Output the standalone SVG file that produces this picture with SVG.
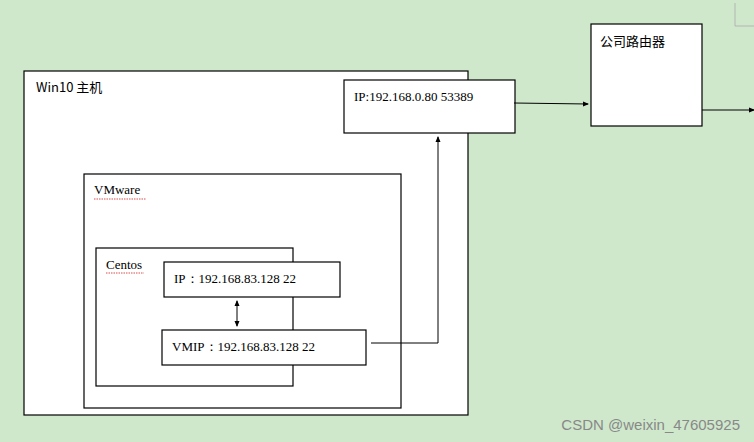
<svg xmlns="http://www.w3.org/2000/svg" width="754" height="442" viewBox="0 0 754 442">
<style>
.box{fill:#fff;stroke:#000;stroke-width:1.2}
.t{font-family:"Liberation Serif",serif;font-size:13px;fill:#000}
.c{font-family:"Noto Sans CJK SC",sans-serif;font-size:13px;fill:#000}
.ln{fill:none;stroke:#000;stroke-width:1}
.sq{fill:none;stroke:#c00;stroke-width:0.7;stroke-dasharray:1.5 1}
</style>
<defs>
<marker id="a" markerWidth="6" markerHeight="6" refX="5" refY="3" orient="auto-start-reverse" markerUnits="userSpaceOnUse"><path d="M0,0.5 L6,3 L0,5.5 Z" fill="#000"/></marker>
</defs>
<rect width="754" height="442" fill="#cfe8cc"/>
<path d="M735,3 V26 H754" fill="none" stroke="#aaa" stroke-width="0.8"/>
<g id="win10"><rect class="box" x="24" y="71" width="444" height="344"/><text class="c" x="36" y="92">Win10  主机</text></g>
<g id="hostip"><rect class="box" x="344" y="80" width="171" height="53"/><text class="t" x="354" y="101">IP:192.168.0.80      53389</text></g>
<g id="router"><rect class="box" x="591" y="24" width="111" height="102"/><text class="c" x="600" y="46">公司路由器</text></g>
<g id="vmware"><rect class="box" x="84" y="174" width="317" height="234"/><text class="t" x="94" y="194">VMware</text><path class="sq" d="M94,199 h52"/></g>
<g id="centos"><rect class="box" x="96" y="248" width="197" height="138"/><text class="t" x="106" y="269">Centos</text><path class="sq" d="M106,273 h38"/></g>
<g id="ip"><rect class="box" x="164" y="262" width="176" height="35"/><text class="t" x="174" y="283">IP：192.168.83.128    22</text></g>
<g id="vmip"><rect class="box" x="162" y="330" width="204" height="35"/><text class="t" x="172" y="351">VMIP：192.168.83.128    22</text></g>
<g id="connectors">
<line class="ln" x1="237" y1="301" x2="237" y2="326" marker-start="url(#a)" marker-end="url(#a)"/>
<path class="ln" d="M371,343 H438 V137" marker-end="url(#a)"/>
<line class="ln" x1="514" y1="103" x2="588" y2="104" marker-end="url(#a)"/>
<line class="ln" x1="702" y1="110" x2="754" y2="110" marker-end="url(#a)"/>
</g>
<text x="740" y="430" text-anchor="end" font-family="Liberation Sans,sans-serif" font-size="15" fill="#888">CSDN @weixin_47605925</text>
</svg>
